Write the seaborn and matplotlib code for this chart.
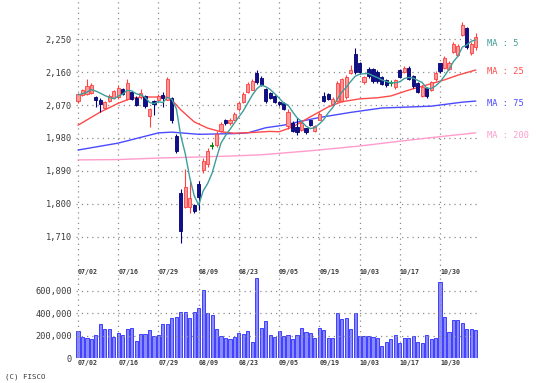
import numpy as np
import pandas as pd
import matplotlib
matplotlib.use("Agg")
import matplotlib.pyplot as plt
import seaborn as sns

# ---------------- DATA ----------------
dates = ["07/02", "07/16", "07/29", "08/09", "08/23", "09/05", "09/19", "10/03", "10/17", "10/30"]
date_pos = [0, 9, 18, 27, 36, 45, 54, 63, 72, 81]

opens = [2080, 2098, 2100, 2104, 2092, 2085, 2062, 2080, 2090, 2092,
         2115, 2088, 2105, 2090, 2092, 2096, 2040, 2080, 2085, 2098,
         2085, 2090, 1985, 1830, 1792, 1790, 1796, 1855, 1893, 1910,
         1958, 1962, 2000, 2028, 2020, 2030, 2058, 2078, 2105, 2112,
         2158, 2145, 2115, 2102, 2095, 2078, 2075, 2012, 2022, 2010,
         2003, 2006, 2028, 1998, 2030, 2095, 2100, 2072, 2080, 2082,
         2092, 2158, 2210, 2185, 2132, 2170, 2168, 2160, 2148, 2138,
         2130, 2120, 2165, 2160, 2172, 2150, 2130, 2095, 2118, 2112,
         2140, 2184, 2172, 2168, 2216, 2208, 2262, 2280, 2213, 2228]
closes = [2100, 2110, 2122, 2125, 2084, 2072, 2078, 2096, 2108, 2118,
          2100, 2130, 2088, 2070, 2102, 2068, 2058, 2072, 2096, 2090,
          2142, 2028, 1945, 1725, 1845, 1815, 1780, 1818, 1918, 1945,
          1958, 1992, 2018, 2020, 2030, 2046, 2076, 2100, 2128, 2136,
          2132, 2126, 2080, 2090, 2078, 2072, 2060, 2050, 2000, 1995,
          2022, 1995, 2016, 2014, 2046, 2082, 2086, 2088, 2130, 2140,
          2148, 2165, 2160, 2160, 2146, 2150, 2135, 2135, 2128, 2125,
          2130, 2138, 2148, 2172, 2140, 2122, 2106, 2120, 2095, 2132,
          2158, 2162, 2200, 2186, 2238, 2232, 2288, 2228, 2238, 2256]
highs = [2104, 2114, 2140, 2130, 2096, 2089, 2080, 2099, 2112, 2126,
         2118, 2140, 2108, 2094, 2113, 2098, 2061, 2085, 2099, 2107,
         2148, 2093, 1990, 1840, 1895, 1862, 1800, 1862, 1925, 1952,
         1968, 2000, 2025, 2032, 2036, 2050, 2080, 2105, 2132, 2140,
         2166, 2150, 2118, 2106, 2098, 2082, 2078, 2058, 2026, 2035,
         2025, 2008, 2030, 2016, 2050, 2106, 2103, 2092, 2135, 2145,
         2153, 2180, 2226, 2188, 2150, 2175, 2172, 2165, 2150, 2142,
         2138, 2142, 2170, 2178, 2176, 2153, 2134, 2126, 2120, 2135,
         2162, 2186, 2203, 2190, 2242, 2236, 2297, 2283, 2242, 2268]
lows = [2076, 2095, 2098, 2100, 2066, 2052, 2060, 2078, 2088, 2088,
        2097, 2084, 2084, 2068, 2088, 2061, 2011, 2044, 2083, 2066,
        2084, 2020, 1938, 1693, 1788, 1776, 1776, 1782, 1885, 1900,
        1950, 1955, 1996, 2016, 2015, 2028, 2055, 2075, 2102, 2110,
        2128, 2122, 2076, 2087, 2075, 2068, 2056, 2004, 1996, 1988,
        2000, 1990, 2013, 1995, 2028, 2078, 2084, 2070, 2078, 2078,
        2088, 2155, 2156, 2155, 2128, 2145, 2130, 2130, 2125, 2120,
        2122, 2115, 2145, 2158, 2138, 2118, 2102, 2092, 2090, 2108,
        2136, 2158, 2168, 2165, 2212, 2205, 2258, 2224, 2208, 2222]
pre_closes = [2095, 2100, 2090, 2105]

volume_k = [240, 189, 175, 166, 204, 302, 255, 255, 189, 219,
            204, 255, 264, 151, 213, 213, 249, 196, 204, 302,
            302, 353, 367, 412, 412, 353, 412, 441, 604, 403,
            382, 255, 196, 175, 166, 189, 219, 213, 240, 139,
            708, 264, 329, 204, 189, 240, 198, 204, 169, 204,
            264, 234, 219, 175, 270, 249, 181, 181, 403, 347,
            359, 255, 403, 196, 196, 196, 184, 175, 107, 145,
            166, 204, 136, 175, 181, 196, 145, 136, 204, 169,
            181, 673, 367, 234, 338, 338, 314, 255, 255, 249]

ma25_idx = [0, 5, 9, 12, 15, 20, 21, 23, 26, 29, 32, 35, 39, 43, 45, 48, 52, 56, 59, 63, 67, 70, 74, 78, 82, 85, 89]
ma25_val = [2015, 2051, 2075, 2089, 2092, 2092, 2084, 2057, 2024, 2007, 1997, 1993, 1995, 1998, 1997, 2010,
            2038, 2065, 2079, 2087, 2090, 2095, 2111, 2125, 2139, 2152, 2166]
ma75_idx = [0, 9, 18, 21, 27, 35, 38, 42, 46, 50, 54, 61, 68, 79, 86, 89]
ma75_val = [1947, 1966, 1994, 1996, 1990, 1992, 1994, 2008, 2015, 2026, 2036, 2050, 2062, 2067, 2078, 2081]
ma200_idx = [0, 9, 18, 27, 35, 41, 52, 63, 74, 82, 89]
ma200_val = [1920, 1921, 1925, 1928, 1931, 1934, 1945, 1958, 1974, 1985, 1994]

price_ticks = [1710, 1800, 1890, 1980, 2070, 2160, 2250]
vol_ticks = [0, 200000, 400000, 600000]

# ---------------- STYLE ----------------
sns.set_theme(style="white")
plt.rcParams["font.family"] = ["DejaVu Sans Mono"]

C_MA5 = "#3c9e9a"
C_MA25 = "#ff4a4a"
C_MA75 = "#4a4aff"
C_MA200 = "#ff9ccc"
TXT = "#3a3a3a"
grid_kw = dict(color="#8c8c8c", linestyle=(0, (1, 3.2)), linewidth=0.9)

df = pd.DataFrame({"open": opens, "close": closes, "high": highs, "low": lows})
df["idx"] = np.arange(len(df))
all_close = pd.Series(pre_closes + closes)
df["ma5"] = all_close.rolling(5).mean().iloc[len(pre_closes):].values

fig = plt.figure(figsize=(5.37, 3.83), dpi=100)
ax = fig.add_axes([76 / 537, 1 - 276 / 383, 402 / 537, 276 / 383])
axv = fig.add_axes([76 / 537, 1 - 358 / 383, 402 / 537, 82 / 383])

# ---------------- CANDLES ----------------
up = df[df.close > df.open]
down = df[df.close < df.open]
doji = df[df.close == df.open]

ax.vlines(up.idx, up.low, up.high, color="#ff4040", lw=0.8, zorder=3)
ax.bar(up.idx, up.close - up.open, bottom=up.open, width=0.7,
       color="#ff9a9a", edgecolor="#ff3c3c", linewidth=0.6, zorder=4)
ax.vlines(down.idx, down.low, down.high, color="#000080", lw=0.8, zorder=3)
ax.bar(down.idx, down.open - down.close, bottom=down.close, width=0.7,
       color="#10108a", edgecolor="#000070", linewidth=0.6, zorder=4)
ax.vlines(doji.idx, doji.low, doji.high, color="#008000", lw=0.8, zorder=3)
ax.hlines(doji.close, doji.idx - 0.4, doji.idx + 0.4, color="#008000", lw=1.2, zorder=4)

# ---------------- MOVING AVERAGES ----------------
sns.lineplot(x=ma200_idx, y=ma200_val, ax=ax, color=C_MA200, lw=1, zorder=2)
sns.lineplot(x=ma75_idx, y=ma75_val, ax=ax, color=C_MA75, lw=1, zorder=2)
sns.lineplot(x=ma25_idx, y=ma25_val, ax=ax, color=C_MA25, lw=1, zorder=2)
sns.lineplot(x=df.idx, y=df.ma5, ax=ax, color=C_MA5, lw=1, zorder=5)

ax.set_xlim(-0.45, 89.5)
ax.set_ylim(1602.4, 2357.5)
ax.set_yticks(price_ticks)
ax.set_yticklabels([f"{v:,}" for v in price_ticks])
ax.set_xticks(date_pos)
ax.set_xticklabels([])
ax.tick_params(axis="both", length=0, labelsize=6.2, colors=TXT, pad=3)
ax.grid(True, **grid_kw)
ax.set_axisbelow(True)
ax.set_xlabel("")
ax.set_ylabel("")
for s in ax.spines.values():
    s.set_visible(False)

for p, d in zip(date_pos, dates):
    ax.text(p, 0.0145, d, transform=ax.get_xaxis_transform(), ha="left", va="center",
            fontsize=4.8, fontweight="bold", color=TXT)

# ---------------- VOLUME ----------------
vol = np.array(volume_k) * 1000
sns.barplot(x=df.idx, y=vol, ax=axv, native_scale=True, color="#8a8aff",
            edgecolor="#2a2aff", linewidth=0.6, width=0.7, saturation=1, zorder=2)
axv.set_xlim(-0.45, 89.5)
axv.set_ylim(0, 729000)
axv.set_yticks(vol_ticks)
axv.set_yticklabels([f"{v:,}" for v in vol_ticks])
axv.set_xticks(date_pos)
axv.set_xticklabels(dates, ha="left", fontsize=4.8, fontweight="bold")
axv.tick_params(axis="both", length=0, colors=TXT, pad=3)
axv.tick_params(axis="y", labelsize=6.2)
axv.tick_params(axis="x", pad=1.5)
axv.grid(True, zorder=3, **grid_kw)
axv.set_axisbelow(False)
axv.set_xlabel("")
axv.set_ylabel("")
for s in axv.spines.values():
    s.set_visible(False)

# ---------------- LABELS ----------------
fig.text(487 / 537, 1 - 43 / 383, "MA : 5", color=C_MA5, fontsize=6.2, va="center")
fig.text(487 / 537, 1 - 71 / 383, "MA : 25", color=C_MA25, fontsize=6.2, va="center")
fig.text(487 / 537, 1 - 103 / 383, "MA : 75", color=C_MA75, fontsize=6.2, va="center")
fig.text(487 / 537, 1 - 135 / 383, "MA : 200", color=C_MA200, fontsize=6.2, va="center")
fig.text(5 / 537, 1 - 376.5 / 383, "(C) FISCO", color=TXT, fontsize=5.4, va="center")

fig.savefig("out.png", dpi=100)
